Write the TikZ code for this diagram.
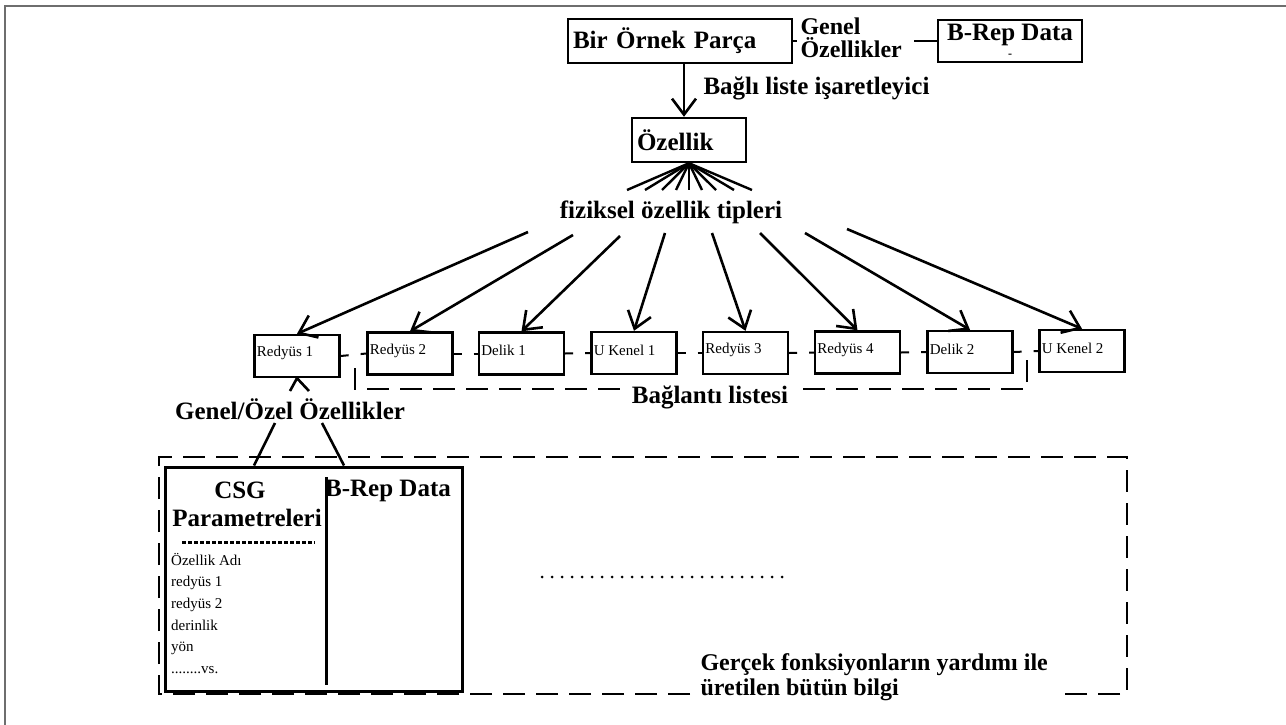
\documentclass[tikz,border=0pt]{standalone}
\usepackage{fontspec}
\setmainfont{Liberation Serif}
\usetikzlibrary{arrows.meta,calc}
\definecolor{edgegray}{RGB}{110,110,110}
\begin{document}
\begin{tikzpicture}[x=1pt,y=-1pt,
  big/.style={font=\bfseries\fontsize{25}{22}\selectfont},
  small/.style={font=\fontsize{15}{17}\selectfont},
  frame/.style={draw, line width=2.4pt, rectangle, inner sep=0pt},
  arr/.style={line width=2.6pt, -{Straight Barb[length=16pt,width=24pt,line width=2.6pt]}},
  link/.style={line width=2pt, dash pattern=on 8pt off 12pt on 8pt off 0pt},
  dashline/.style={line width=2.6pt, dash pattern=on 22pt off 11pt},
  thin/.style={line width=2.4pt}]
\useasboundingbox (0,0) rectangle (1286,725);

% page edge
\draw[edgegray, line width=2pt] (4.5,725) -- (4.5,6.5) -- (1286,6.5);

% part record and its general features
\node[frame, big, minimum width=224pt, minimum height=44pt, text width=214pt,
      inner xsep=5pt, align=left] (part) at (680,41) {Bir Örnek Parça};
\node[align=left, anchor=west, font=\bfseries\fontsize{24}{23}\selectfont, inner ysep=0pt] (gen) at (797,38) {Genel\\Özellikler};
\node[frame, big, minimum width=144pt, minimum height=42pt, align=center] (brep) at (1010,41)
  {B-Rep Data\\[-5pt]{\fontsize{12}{12}\selectfont -}};
\draw[thin] (part.east) -- (part.east -| gen.west);
\draw[thin, shorten <=9pt] (gen.east |- brep.west) -- (brep.west);

% linked list pointer to the feature record
\node[frame, big, minimum width=114pt, minimum height=44pt, text width=104pt,
      inner xsep=5pt, align=left] (feat) at (689,140) {Özellik};
\draw[arr] ([xshift=4pt]part.south) -- ([xshift=-5pt]feat.north);
\node[big, anchor=west] (ptr) at (700,88) {Bağlı liste işaretleyici};

% fan of feature types
\foreach \x in {627,645,662,676,689,702,716,734,752}
  \draw[thin] (feat.south) -- (\x,190);
\node[big] (types) at (671,212) {fiziksel özellik tipleri};

% row of features
\foreach \i/\x/\y/\t in {1/297/356/Redyüs 1, 2/410/353.5/Redyüs 2, 3/521.5/353.5/Delik 1,
    4/634/353/U Kenel 1, 5/745.5/353/Redyüs 3, 6/857.5/352.5/Redyüs 4,
    7/970/352/Delik 2, 8/1082/351/U Kenel 2}
  \node[frame, minimum width=85pt, minimum height=42pt,
        label={[anchor=west, small, yshift=3pt]west:\t}] (r\i) at (\x,\y) {};

\foreach \i/\sx/\sy in {1/528/232, 2/573/235, 3/620/236, 4/665/233,
    5/712/233, 6/760/233, 7/805/233, 8/847/229}{
  \coordinate (s\i) at (\sx,\sy);
  \draw[arr] (s\i) -- (r\i.north);
}

\foreach \i/\j in {1/2,2/3,3/4,4/5,5/6,6/7,7/8}
  \draw[link] (r\i.east) -- (r\j.west);

% connection list bracket
\node[big] (conn) at (710,397) {Bağlantı listesi};
\draw[dashline] (355,368) -- (355,389) -- (622,389);
\draw[dashline] (803,389) -- (1027,389) -- (1027,360);

% general / special features of the first feature
\node[big] (gs) at (290,409) {Genel/Özel Özellikler};
\coordinate (g1) at (290,391);
\coordinate (g2) at (309,391);
\draw[line width=2.6pt] (g1) -- (r1.south) -- (g2);

\node[frame, line width=3pt, minimum width=297pt, minimum height=224pt] (csg) at (314,579) {};
\coordinate (gA) at (275,423);
\coordinate (gB) at (322,423);
\draw[line width=2.6pt] (gA) -- ([xshift=90pt]csg.north west);
\draw[line width=2.6pt] (gB) -- ([xshift=180pt]csg.north west);
\draw[line width=2.6pt] (326.5,477) -- (326.5,685);

\node[big] (csgt) at (240,490) {CSG};
\node[big] (par) at (247,518) {Parametreleri};
\node[big] (brep2) at (388,491) {B-Rep Data};
\draw[line width=3pt, dash pattern=on 4pt off 2pt] (182,542) -- (315,542);
\node[anchor=north west, align=left, font=\fontsize{15}{21.6}\selectfont, inner sep=3pt] (lst) at (168,550)
  {Özellik Adı\\redyüs 1\\redyüs 2\\derinlik\\yön\\........vs.};

% all information produced by the real functions
\draw[line width=3pt, line cap=round, dash pattern=on 0pt off 10pt] (542,577) -- (785,577);
\draw[dashline] (690,694) -- (159,694) -- (159,457) -- (1127,457) -- (1127,694) -- (1055,694);
\node[anchor=west, align=left, font=\bfseries\fontsize{24}{25}\selectfont] (info) at (697,677)
  {Gerçek fonksiyonların yardımı ile\\üretilen bütün bilgi};
\end{tikzpicture}
\end{document}
